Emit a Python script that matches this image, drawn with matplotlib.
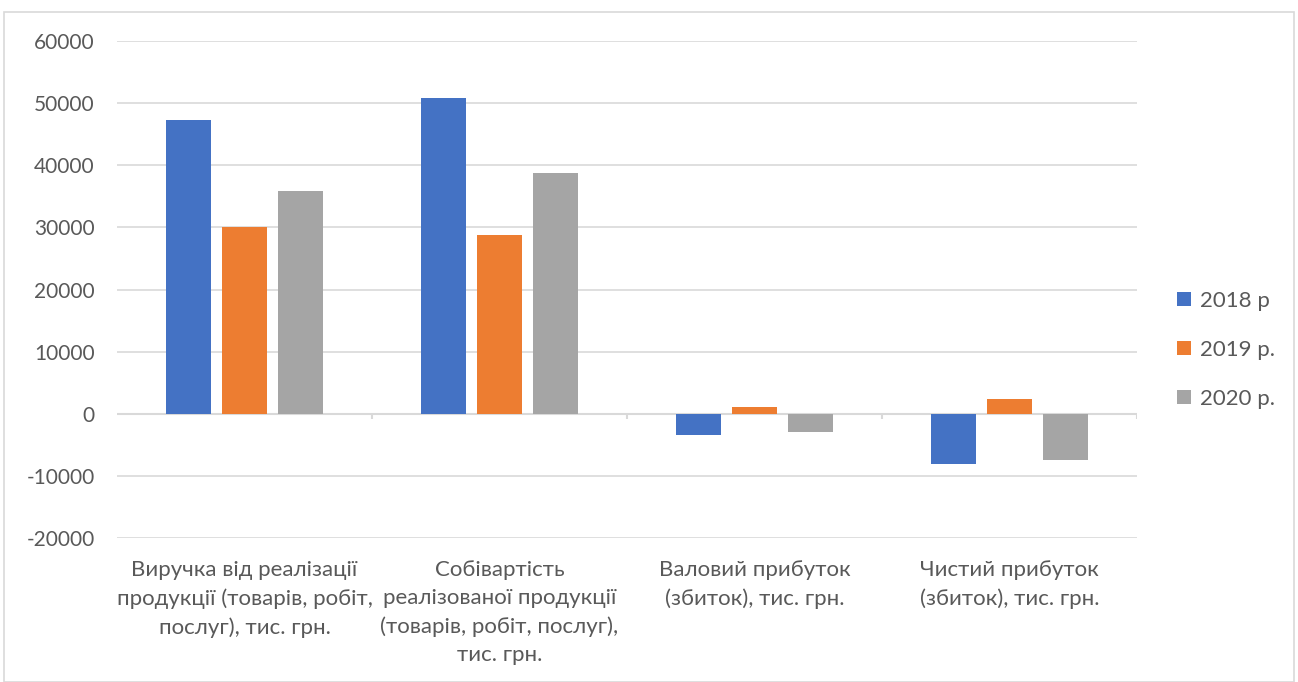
import matplotlib
matplotlib.use("Agg")
import matplotlib.pyplot as plt
from matplotlib.patches import Rectangle
import numpy as np

plt.rcParams['font.family'] = ['Lato', 'DejaVu Sans']

categories = [
    "Виручка від реалізації\nпродукції (товарів, робіт,\nпослуг), тис. грн.",
    "Собівартість\nреалізованої продукції\n(товарів, робіт, послуг),\nтис. грн.",
    "Валовий прибуток\n(збиток), тис. грн.",
    "Чистий прибуток\n(збиток), тис. грн.",
]
series_names = ["2018 р", "2019 р.", "2020 р."]
values_2018 = [47300, 50800, -3500, -8100]
values_2019 = [30000, 28800, 1100, 2300]
values_2020 = [35900, 38800, -2900, -7500]
colors = ["#4472C4", "#ED7D31", "#A5A5A5"]
yticks = [-20000, -10000, 0, 10000, 20000, 30000, 40000, 50000, 60000]

W, H = 1298, 682
fig = plt.figure(figsize=(W / 100, H / 100), dpi=100)
fig.add_artist(Rectangle((4 / W, 0), (W - 8) / W, 1 - 12 / H, transform=fig.transFigure,
                         fill=False, edgecolor="#D9D9D9", linewidth=1.2))

ax = fig.add_axes([117 / W, 1 - 538 / H, (1137 - 117) / W, (538 - 41) / H])

x = np.arange(len(categories))
bw = 0.176
step = 0.22
for i, (vals, name, c) in enumerate(zip([values_2018, values_2019, values_2020], series_names, colors)):
    ax.bar(x + (i - 1) * step, vals, width=bw, color=c, label=name, zorder=3)

ax.set_xlim(-0.5, len(categories) - 0.5)
ax.set_ylim(-20000, 60000)
ax.set_yticks(yticks)
ax.set_yticklabels([str(t) for t in yticks], fontsize=15, color="#595959")
ax.tick_params(axis="y", length=0, pad=16)
ax.yaxis.grid(True, color="#D9D9D9", linewidth=1.2, zorder=0)
ax.set_axisbelow(True)

ax.set_xticks(x)
ax.set_xticklabels(categories, fontsize=16, color="#595959", linespacing=1.5, va="top")
ax.tick_params(axis="x", length=0, pad=16)

for s in ax.spines.values():
    s.set_visible(False)

# category axis drawn at zero with boundary ticks
ax.axhline(0, color="#D9D9D9", linewidth=1.5, zorder=2)
bounds = np.arange(0.5, len(categories), 1.0)
ax.vlines(bounds, -900, 0, color="#D9D9D9", linewidth=1.5, zorder=2)

leg = ax.legend(loc="center left", bbox_to_anchor=(1.02, 0.378), frameon=False,
                fontsize=16, labelcolor="#595959", handlelength=0.6, handleheight=0.6,
                handletextpad=0.4, labelspacing=1.3)

fig.savefig("out.png", dpi=100, facecolor="white")
